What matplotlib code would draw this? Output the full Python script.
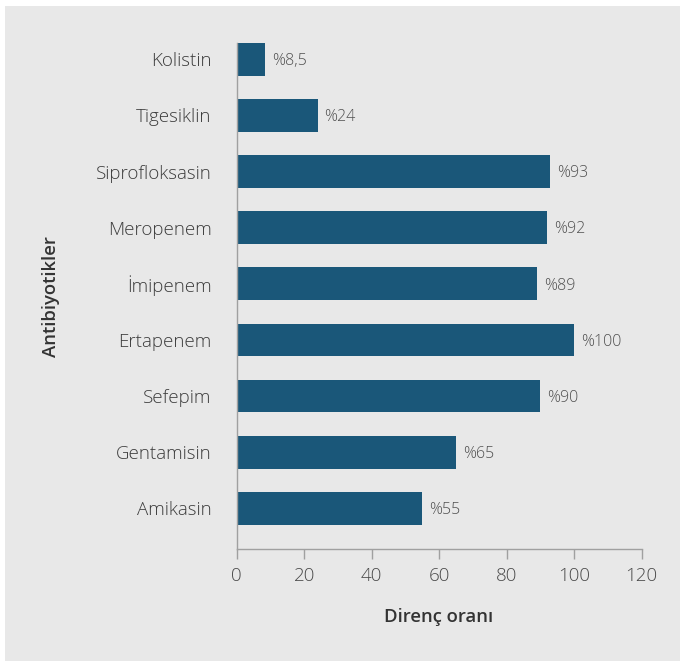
import matplotlib.pyplot as plt
from matplotlib import font_manager as fm

plt.rcParams['font.family'] = ['Open Sans', 'DejaVu Sans']


def font_file(name):
    for f in fm.fontManager.ttflist:
        if f.fname.endswith(name):
            return f.fname
    return None


light_path = font_file("OpenSans-Light.ttf")
semi_path = font_file("OpenSans-Semibold.ttf")
light = fm.FontProperties(fname=light_path) if light_path else fm.FontProperties(family="Open Sans", weight="light")
semi = fm.FontProperties(fname=semi_path) if semi_path else fm.FontProperties(family="Open Sans", weight="semibold")

antibiotics = ["Kolistin", "Tigesiklin", "Siprofloksasin", "Meropenem", "İmipenem",
               "Ertapenem", "Sefepim", "Gentamisin", "Amikasin"]
resistance = [8.5, 24, 93, 92, 89, 100, 90, 65, 55]
value_labels = ["%8,5", "%24", "%93", "%92", "%89", "%100", "%90", "%65", "%55"]
x_ticks = [0, 20, 40, 60, 80, 100, 120]

bg = "#e8e8e8"
bar_color = "#1a5779"

fig = plt.figure(figsize=(6.8, 6.61), dpi=100, facecolor="white")
fig.add_artist(plt.Rectangle((5 / 680, 0), 1, 1 - 6 / 661, transform=fig.transFigure,
                             facecolor=bg, edgecolor="none", zorder=-10))
ax = fig.add_axes([236.7 / 680, 1 - 549.3 / 661, (641.5 - 236.7) / 680, (549.3 - 43) / 661])
ax.set_facecolor(bg)

y = list(range(len(antibiotics)))
ax.barh(y, resistance, height=0.583, color=bar_color)
for yi, v, lab in zip(y, resistance, value_labels):
    ax.text(v + 2, yi + 0.03, lab, va="center", ha="left", fontproperties=light,
            fontsize=11.5, color="#505050")

ax.set_ylim(8.73, -0.2915)
ax.set_xlim(0, 120)
ax.set_xticks(x_ticks)
ax.set_yticks(y)
ax.set_yticklabels(antibiotics)

for s in ["top", "right"]:
    ax.spines[s].set_visible(False)
for s in ["left", "bottom"]:
    ax.spines[s].set_color("#a0a0a0")
    ax.spines[s].set_linewidth(1)

ax.tick_params(axis="y", length=0, pad=18, labelcolor="#3c3c3c")
ax.tick_params(axis="x", length=7.5, width=1, color="#a0a0a0", pad=5, labelcolor="#4a4a4a")
for lab in ax.get_xticklabels() + ax.get_yticklabels():
    lab.set_fontproperties(light)
    lab.set_fontsize(13.5)

ax.set_xlabel("Direnç oranı", fontproperties=semi, fontsize=13.3, color="#333333")
ax.set_ylabel("Antibiyotikler", fontproperties=semi, fontsize=13.3, color="#333333")
ax.xaxis.label.set_va("center")
ax.yaxis.label.set_va("center")
ax.xaxis.set_label_coords(0.5, -(617 - 549.3) / 506.3)
ax.yaxis.set_label_coords((51 - 236.7) / 404.8, 0.5)

fig.savefig("out.png", dpi=100, facecolor="white")
